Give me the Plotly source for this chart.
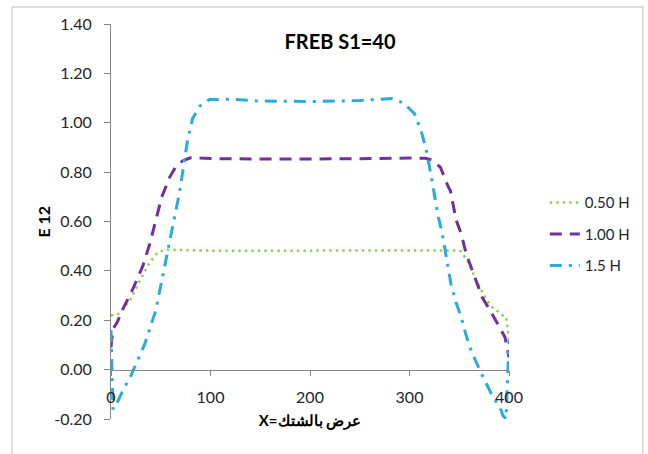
import plotly.graph_objects as go

# ---- data ----
x_050 = [0, 6, 9, 19, 29, 39, 47, 55, 65, 100, 200, 300, 345, 352, 359, 367, 376, 383, 394, 397, 400]
y_050 = [0.22, 0.22, 0.232, 0.28, 0.36, 0.435, 0.475, 0.486, 0.485, 0.482, 0.482, 0.483, 0.483, 0.479,
         0.435, 0.361, 0.293, 0.253, 0.219, 0.215, 0.12]

x_100 = [0, 2, 6, 12, 22, 32, 39, 44, 51, 59, 66, 73, 80, 86, 100, 150, 200, 250, 300, 311, 316, 322,
         331, 339, 341, 347, 352, 357, 366, 373, 381, 393, 396, 400]
y_100 = [0.09, 0.165, 0.19, 0.246, 0.327, 0.42, 0.51, 0.591, 0.699, 0.78, 0.828, 0.848, 0.858, 0.858,
         0.855, 0.853, 0.853, 0.854, 0.857, 0.858, 0.856, 0.85, 0.82, 0.74, 0.726, 0.604, 0.55, 0.469,
         0.374, 0.293, 0.24, 0.151, 0.131, 0.05]

x_150 = [0, 2, 4, 11, 20, 26, 34, 45, 50, 55, 60, 65, 69, 72, 75, 77, 82, 89, 99, 120, 150, 200, 250,
         282, 294, 305, 312, 317, 320, 323, 326, 329, 333, 336, 339, 342, 347, 352, 357, 362, 370, 378,
         384, 391, 394, 397, 400]
y_150 = [0.16, -0.16, -0.153, -0.092, -0.024, 0.03, 0.104, 0.24, 0.34, 0.44, 0.54, 0.64, 0.72, 0.80,
         0.88, 0.93, 1.017, 1.067, 1.094, 1.095, 1.088, 1.086, 1.09, 1.098, 1.08, 1.037, 0.963, 0.888,
         0.824, 0.753, 0.69, 0.618, 0.55, 0.476, 0.408, 0.34, 0.27, 0.212, 0.138, 0.077, 0.003, -0.065,
         -0.112, -0.153, -0.187, -0.2, 0.12]

series_names = ["0.50 H", "1.00 H", "1.5 H"]
x_ticks = [0, 100, 200, 300, 400]
y_ticks = [-0.2, 0.0, 0.2, 0.4, 0.6, 0.8, 1.0, 1.2, 1.4]
y_tick_labels = ["-0.20", "0.00", "0.20", "0.40", "0.60", "0.80", "1.00", "1.20", "1.40"]

title_text = "FREB S1=40"
x_title = "X=عرض بالشتك"
y_title = "E 12"

FONT = "Lato"
AX = "#868686"

fig = go.Figure()
fig.add_trace(go.Scatter(x=x_050, y=y_050, mode="lines", name=series_names[0], legendgroup="a",
                         line=dict(color="#92D050", width=2.5, dash="2.5px,4px")))
fig.add_trace(go.Scatter(x=x_100, y=y_100, mode="lines", name=series_names[1], legendgroup="b",
                         line=dict(color="#7030A0", width=3, dash="12px,8px")))
fig.add_trace(go.Scatter(x=x_150, y=y_150, mode="lines", name=series_names[2], legendgroup="c",
                         line=dict(color="#29ABE0", width=3, dash="12px,7px,3px,7px")))

fig.update_layout(
    width=648, height=454,
    margin=dict(l=111, r=139, t=24, b=35),
    paper_bgcolor="white", plot_bgcolor="white",
    font=dict(family=FONT, size=16, color="#262626"),
    title=dict(text="<b>" + title_text + "</b>", x=340 / 648, xanchor="center",
               y=1 - 42 / 454, yanchor="middle", font=dict(size=20, color="#000000")),
    showlegend=True,
    legend=dict(x=1.09, xanchor="left", y=0.468, yanchor="middle",
                traceorder="grouped", tracegroupgap=9,
                font=dict(size=15, color="#262626"), bgcolor="rgba(0,0,0,0)"),
    xaxis=dict(range=[0, 400], anchor="free", position=0.125,
               showline=True, linecolor=AX, linewidth=1,
               ticks="outside", ticklen=5, tickcolor=AX, tickvals=x_ticks,
               ticklabelstandoff=8,
               showgrid=False, zeroline=False,
               tickfont=dict(size=16, color="#262626"),
               title=dict(text="<b>" + x_title + "</b>", standoff=10,
                          font=dict(size=15, color="#000000"))),
    yaxis=dict(range=[-0.2, 1.4], showline=True, linecolor=AX, linewidth=1,
               ticks="outside", ticklen=6, tickcolor=AX,
               tickvals=y_ticks, ticktext=y_tick_labels,
               ticklabelstandoff=9,
               showgrid=False, zeroline=False,
               tickfont=dict(size=16, color="#262626")),
    annotations=[dict(text="<b>" + y_title + "</b>", xref="paper", yref="paper",
                      x=(43 - 111) / 398, y=0.5, xanchor="center", yanchor="middle",
                      textangle=-90, showarrow=False,
                      font=dict(size=16, color="#000000"))],
    shapes=[dict(type="rect", xref="paper", yref="paper",
                 x0=(12 - 111) / 398, x1=(643 - 111) / 398,
                 y0=-0.12, y1=(419 - 7) / 395,
                 line=dict(color="#BFBFBF", width=1), fillcolor="rgba(0,0,0,0)", layer="below")],
)

fig.write_html("out.html")
